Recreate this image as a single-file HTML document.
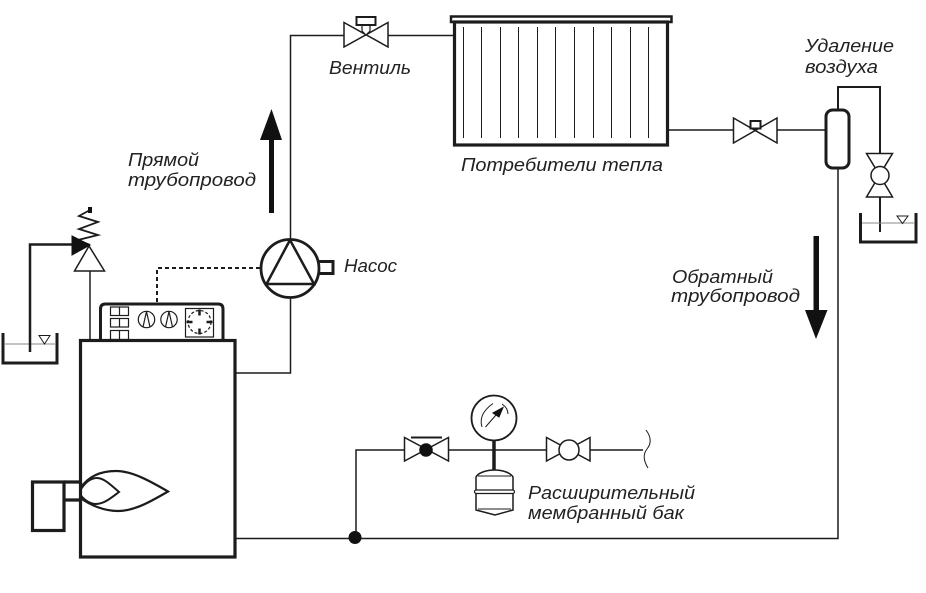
<!DOCTYPE html>
<html lang="ru">
<head>
<meta charset="utf-8">
<title>Схема отопления</title>
<style>
html,body{margin:0;padding:0;background:#fff;width:926px;height:593px;overflow:hidden}
svg{display:block}
text{font-family:"Liberation Sans","DejaVu Sans",sans-serif;font-style:italic;font-size:18px;fill:#222}
</style>
</head>
<body>
<svg width="926" height="593" viewBox="0 0 926 593" xmlns="http://www.w3.org/2000/svg">
<g fill="none" stroke="#1c1c1c" stroke-width="1.5">
  <!-- main pipes -->
  <path d="M290.500 239V35.500H344M388 35.500H454"/>
  <path d="M290.500 298V373H235"/>
  <path d="M668 130H733M777 130H826"/>
  <path d="M838 168V538.500H235"/>
  <path d="M356 537V450H404M449 450H546M590 450H643"/>
  <path d="M90 271V340"/>
  <path d="M646 430c6 8 5 14 1 19c-4 5-4 11 1 19" stroke-width="1"/>

  <!-- left tank + relief valve -->
  <path d="M3 333V363H57V333" stroke-width="3"/>
  <path d="M4 344H56" stroke="#888" stroke-width="1"/>
  <path d="M30 352V244.500H73" stroke-width="2.500"/>
  <path d="M39 335.500H50L44.500 344Z" stroke-width="1"/>
  <path d="M90 210L79 216L98 222L79 229L98 235L78 240L90 245" stroke-width="1.800"/>
  <path d="M89 246L74.500 271H104.500Z" stroke-width="1.500"/>
  <path d="M72 236L90 245L72 255Z" fill="#111" stroke="#111" stroke-width="1"/>
  <rect x="88" y="207" width="4" height="6" fill="#111" stroke="none"/>

  <!-- controller -->
  <path d="M100.500 340V309q0-5 5-5H218q5 0 5 5V340" stroke-width="3" fill="#fff"/>
  <g stroke-width="1.200">
    <rect x="110.500" y="307" width="18" height="8.500"/><path d="M119.500 307v8.500"/>
    <rect x="110.500" y="318.500" width="18" height="8.500"/><path d="M119.500 318.500v8.500"/>
    <rect x="110.500" y="330.500" width="18" height="9"/><path d="M119.500 330.500v9"/>
    <circle cx="146.500" cy="319.500" r="8.200"/><path d="M146.500 311.500L143 327M146.500 311.500L150 327"/>
    <circle cx="169" cy="319.500" r="8.200"/><path d="M169 311.500L165.500 327M169 311.500L172.500 327"/>
    <rect x="185.500" y="308.500" width="28" height="28.500"/>
    <circle cx="199.500" cy="322" r="11.500" stroke-dasharray="3 2"/>
    <path d="M199.500 309.500v6M199.500 328.500v6M186.500 322h6M206.500 322h6" stroke-width="2.500"/>
  </g>

  <!-- boiler -->
  <rect x="80.500" y="340.500" width="154.500" height="216.500" stroke-width="3.200"/>
  <rect x="32.500" y="482" width="31.500" height="48.500" stroke-width="3.200"/>
  <path d="M64 482H80M64 500H80" stroke-width="3.200"/>
  <path d="M80.500 488C90 474 104 471 116 471C132 471 150 481 168 491.500C150 502 134 511 118 511C104 511 90 505 80.500 498" stroke-width="2.200"/>
  <path d="M80.500 490C86 481 92 478 97 478C104 478 111 485 119 492C111 498 104 504 96 504C91 504 85 501 80.500 495" stroke-width="2"/>

  <!-- dashed control -->
  <path d="M260 268H157V303" stroke-width="2" stroke-dasharray="4 3"/>

  <!-- pump -->
  <circle cx="290" cy="268.500" r="29" stroke-width="2.800" fill="#fff"/>
  <path d="M290 240L266.500 284H314Z" stroke-width="2.500"/>
  <path d="M319 261.500H333V273.500H319" stroke-width="3"/>

  <!-- top valve -->
  <path d="M344 22.500V47L388 22.500V47Z" stroke-width="1.500" fill="#fff"/>
  <path d="M362 25h8v6l-4 4l-4-4z" fill="#fff" stroke-width="1.200"/>
  <rect x="356.500" y="17" width="19" height="8" stroke-width="2" fill="#fff"/>

  <!-- radiator -->
  <rect x="454.500" y="22" width="213" height="123" stroke-width="3.200"/>
  <rect x="451" y="16.500" width="220.500" height="5.500" stroke-width="2.500"/>
  <path d="M463.500 27V138M481.500 27V138M500.500 27V138M518.500 27V138M537.500 27V138M555.500 27V138M574.500 27V138M593.500 27V138M611.500 27V138M630.500 27V138M648.500 27V138" stroke-width="1"/>

  <!-- right valve -->
  <path d="M733.500 118V143L777 118V143Z" stroke-width="1.500" fill="#fff"/>
  <rect x="750.500" y="121" width="10" height="7.500" stroke-width="2" fill="#fff"/>

  <!-- separator + air removal -->
  <rect x="826" y="110" width="23" height="58" rx="6.500" stroke-width="3" fill="#fff"/>
  <path d="M838 110V87H880V153" stroke-width="2"/>
  <path d="M866.500 153.500H892.500L879.500 175Z M866.500 197H892.500L879.500 175Z" stroke-width="1.500" fill="#fff"/>
  <circle cx="880" cy="175.500" r="9" stroke-width="1.500" fill="#fff"/>
  <path d="M880 197V232" stroke-width="2"/>
  <path d="M860.500 213V242H916V213" stroke-width="3"/>
  <path d="M862 223H914" stroke="#888" stroke-width="1"/>
  <path d="M897 216H908L902.500 223.500Z" stroke-width="1"/>

  <!-- supply valves -->
  <path d="M404.500 437.500V461L448.500 437.500V461Z" stroke-width="1.500" fill="#fff"/>
  <path d="M411 437.500H442" stroke-width="2"/>
  <circle cx="426" cy="450" r="6" fill="#111" stroke="#111"/>
  <path d="M546.500 437.500V461L590 437.500V461Z" stroke-width="1.500" fill="#fff"/>
  <circle cx="569" cy="450" r="10" stroke-width="1.500" fill="#fff"/>

  <!-- gauge -->
  <circle cx="494" cy="418" r="22.500" stroke-width="1.800" fill="#fff"/>
  <path d="M482 427Q478 414 493 403.500M502 404Q508 408 508 414" stroke-width="1"/>
  <path d="M485.500 427L496 415" stroke-width="1"/>
  <path d="M493 413L503 407.500L499 417Z" fill="#111" stroke="#111" stroke-width="1"/>
  <path d="M494 440V471" stroke-width="3.500"/>

  <!-- expansion tank -->
  <path d="M476 477C478 473 486 470 494.500 470C503 470 511 473 513 477V510L495 515L476 510Z" stroke-width="1.500" fill="#fff"/>
  <path d="M478 476H511M478 509H511" stroke-width="1"/>
  <rect x="474.500" y="490" width="40" height="3.500" rx="1.700" stroke-width="1.200" fill="#fff"/>
</g>

<!-- junction -->
<circle cx="355" cy="537.500" r="6.500" fill="#111"/>

<!-- flow arrows -->
<path d="M271.500 109L282 140H274V213H269V140H260Z" fill="#111"/>
<path d="M813.500 236H819V310H827.500L816 339L805 310H813.500Z" fill="#111"/>

<!-- labels -->
<text x="329" y="74" textLength="82" lengthAdjust="spacingAndGlyphs">Вентиль</text>
<text x="461" y="171" textLength="202" lengthAdjust="spacingAndGlyphs">Потребители тепла</text>
<text x="805" y="52" textLength="89" lengthAdjust="spacingAndGlyphs">Удаление</text>
<text x="805" y="73" textLength="73" lengthAdjust="spacingAndGlyphs">воздуха</text>
<text x="128" y="166" textLength="71" lengthAdjust="spacingAndGlyphs">Прямой</text>
<text x="128" y="186" textLength="128" lengthAdjust="spacingAndGlyphs">трубопровод</text>
<text x="344" y="272" textLength="53" lengthAdjust="spacingAndGlyphs">Насос</text>
<text x="672" y="283" textLength="101" lengthAdjust="spacingAndGlyphs">Обратный</text>
<text x="671" y="302" textLength="129" lengthAdjust="spacingAndGlyphs">трубопровод</text>
<text x="528" y="499" textLength="167" lengthAdjust="spacingAndGlyphs">Расширительный</text>
<text x="528" y="519" textLength="156" lengthAdjust="spacingAndGlyphs">мембранный бак</text>
</svg>
</body>
</html>
